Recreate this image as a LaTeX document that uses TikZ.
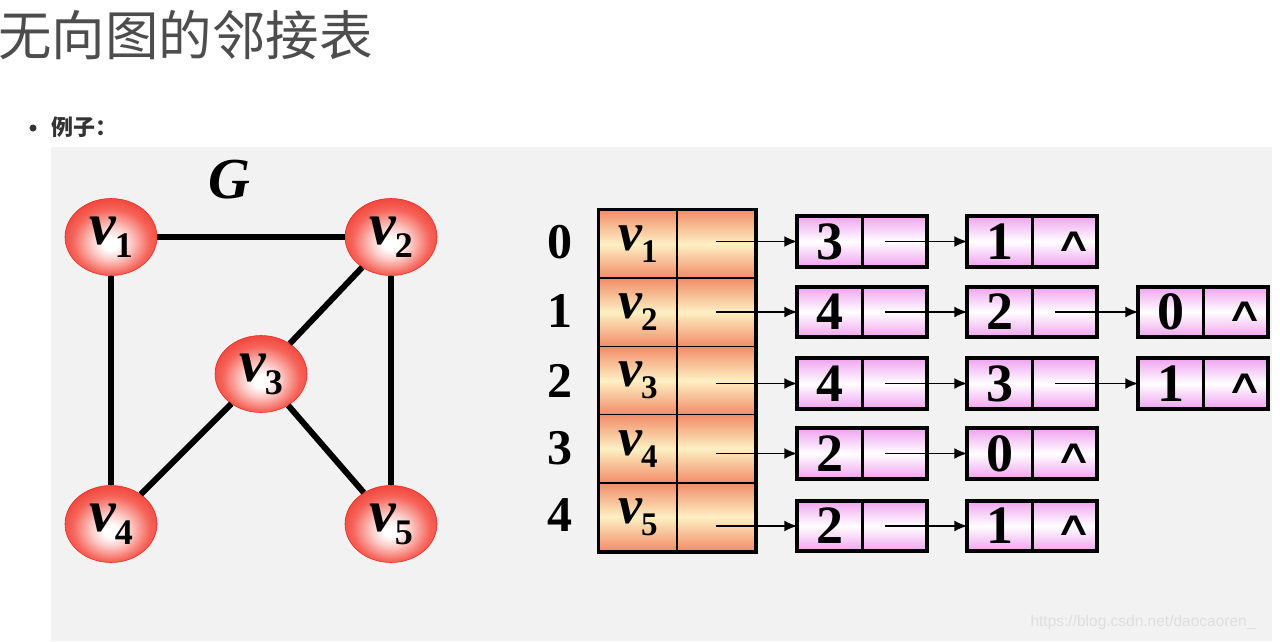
\documentclass[tikz,border=0pt]{standalone}
\usepackage{fontspec}
\usepackage{graphicx}
\setmainfont{Liberation Serif}
\newfontfamily\cjk{Noto Sans CJK SC}
\newfontfamily\wmfont{Liberation Sans}
\newfontfamily\symfont{DejaVu Sans}
\usetikzlibrary{shapes.geometric,arrows.meta}
\definecolor{bgray}{RGB}{242,242,242}
\definecolor{titlegray}{RGB}{77,77,77}
\definecolor{bulletgray}{RGB}{51,51,51}
\definecolor{nodered}{RGB}{238,45,35}
\definecolor{nodemid}{RGB}{246,100,90}
\definecolor{nodelight}{RGB}{252,200,195}
\definecolor{tabor}{RGB}{242,140,104}
\definecolor{tabmid}{RGB}{253,240,195}
\definecolor{pinkc}{RGB}{240,165,240}
\definecolor{wmgray}{RGB}{222,222,222}
\pgfdeclareradialshading{vball}{\pgfpoint{0bp}{-5bp}}{color(0bp)=(white); color(4bp)=(white); color(11bp)=(nodelight); color(21bp)=(nodemid); color(33bp)=(nodered); color(50bp)=(nodered)}
% v with subscript: #1 digit, #2 v size, #3 sub size, #4 drop
\newcommand{\vsub}[4]{{\fontsize{#2}{#2}\selectfont\bfseries\itshape v}\kern-1pt\raisebox{-#4}{\fontsize{#3}{#3}\selectfont\bfseries #1}}
\newcommand{\gv}[1]{\vsub{#1}{60}{36}{13pt}}
\newcommand{\tv}[1]{\vsub{#1}{54}{33}{12pt}}
\tikzset{
  vert/.style={ellipse, minimum width=92pt, minimum height=77pt, inner sep=0pt,
    shading=vball, draw=nodered, line width=0.6pt},
  edge/.style={line width=6pt},
  tcell/.style={rectangle, minimum width=78pt, minimum height=68.2pt, inner sep=0pt,
    top color=tabor, bottom color=tabor, middle color=tabmid, draw=black, line width=1.5pt},
  lcellA/.style={rectangle, minimum width=64pt, minimum height=49pt, inner sep=0pt,
    top color=pinkc, bottom color=pinkc, middle color=white, draw=black, line width=1.5pt,
    font=\fontsize{54}{54}\selectfont\bfseries},
  lcellB/.style={rectangle, minimum width=63pt, minimum height=49pt, inner sep=0pt,
    top color=pinkc, bottom color=pinkc, middle color=white, draw=black, line width=1.5pt,
    anchor=west, font=\symfont\fontsize{28}{28}\selectfont},
  boxframe/.style={draw=black, line width=4pt},
  tabframe/.style={draw=black, line width=3.5pt},
  ptr/.style={line width=1.8pt, -{Latex[length=13pt,width=11pt]}},
  idx/.style={font=\fontsize{50}{50}\selectfont\bfseries},
}
\newcommand{\nil}{\hspace*{18pt}\raisebox{-4pt}{\scalebox{1.9}[1.2]{∧}}}
\begin{document}
\begin{tikzpicture}[x=1pt,y=-1pt]
\useasboundingbox (0,0) rectangle (1280,641);
\fill[white] (0,0) rectangle (1280,641);
\fill[bgray] (51,147) rectangle (1272,641);

% heading
\node[anchor=west, inner sep=0pt, text=titlegray, font=\cjk\fontsize{53.5}{53.5}\selectfont] (title) at (-2,35) {无向图的邻接表};
\fill[bulletgray] (33,128) circle (3.5);
\node[anchor=west, inner sep=0pt, text=bulletgray, font=\cjk\bfseries\fontsize{22}{22}\selectfont] (ex) at (51,127) {例子：};

% graph G
\node[font=\fontsize{58}{58}\selectfont\bfseries\itshape] (G) at (229,180) {G};
\node[vert] (v1) at (111,237) {\gv{1}};
\node[vert] (v2) at (391,237) {\gv{2}};
\node[vert] (v3) at (261,374) {\gv{3}};
\node[vert] (v4) at (111,524) {\gv{4}};
\node[vert] (v5) at (391,524) {\gv{5}};
\draw[edge] (v1) -- (v2);
\draw[edge] (v1) -- (v4);
\draw[edge] (v2) -- (v3);
\draw[edge] (v2) -- (v5);
\draw[edge] (v3) -- (v4);
\draw[edge] (v3) -- (v5);

% vertex table
\node[tcell] (t0a) at (638,244.1) {\tv{1}};
\node[tcell] (t0b) at (716,244.1) {};
\node[tcell] (t1a) at (638,312.3) {\tv{2}};
\node[tcell] (t1b) at (716,312.3) {};
\node[tcell] (t2a) at (638,380.5) {\tv{3}};
\node[tcell] (t2b) at (716,380.5) {};
\node[tcell] (t3a) at (638,448.7) {\tv{4}};
\node[tcell] (t3b) at (716,448.7) {};
\node[tcell] (t4a) at (638,516.9) {\tv{5}};
\node[tcell] (t4b) at (716,516.9) {};
\draw[tabframe] (t0a.north west) rectangle (t4b.south east);

\node[idx] (i0) at (560,242) {0};
\node[idx] (i1) at (560,311) {1};
\node[idx] (i2) at (560,381) {2};
\node[idx] (i3) at (560,448) {3};
\node[idx] (i4) at (560,515) {4};

% edge lists
% row 0
\node[lcellA] (l00a) at (830,241.5) {3};
\node[lcellB] (l00b) at (l00a.east) {};
\node[lcellA] (l01a) at (1000,241.5) {1};
\node[lcellB] (l01b) at (l01a.east) {\nil};
% row 1
\node[lcellA] (l10a) at (830,312) {4};
\node[lcellB] (l10b) at (l10a.east) {};
\node[lcellA] (l11a) at (1000,312) {2};
\node[lcellB] (l11b) at (l11a.east) {};
\node[lcellA] (l12a) at (1171,312) {0};
\node[lcellB] (l12b) at (l12a.east) {\nil};
% row 2
\node[lcellA] (l20a) at (830,383.5) {4};
\node[lcellB] (l20b) at (l20a.east) {};
\node[lcellA] (l21a) at (1000,383.5) {3};
\node[lcellB] (l21b) at (l21a.east) {};
\node[lcellA] (l22a) at (1171,383.5) {1};
\node[lcellB] (l22b) at (l22a.east) {\nil};
% row 3
\node[lcellA] (l30a) at (830,453.5) {2};
\node[lcellB] (l30b) at (l30a.east) {};
\node[lcellA] (l31a) at (1000,453.5) {0};
\node[lcellB] (l31b) at (l31a.east) {\nil};
% row 4
\node[lcellA] (l40a) at (830,526) {2};
\node[lcellB] (l40b) at (l40a.east) {};
\node[lcellA] (l41a) at (1000,526) {1};
\node[lcellB] (l41b) at (l41a.east) {\nil};

\foreach \b in {l00,l01,l10,l11,l12,l20,l21,l22,l30,l31,l40,l41}{
  \draw[boxframe] (\b a.north west) rectangle (\b b.south east);
}

% pointers from table
\draw[ptr] (l00a.west -| t0b.center) -- (l00a.west);
\draw[ptr] (l10a.west -| t1b.center) -- (l10a.west);
\draw[ptr] (l20a.west -| t2b.center) -- (l20a.west);
\draw[ptr] (l30a.west -| t3b.center) -- (l30a.west);
\draw[ptr] (l40a.west -| t4b.center) -- (l40a.west);
% pointers between nodes
\draw[ptr] ([xshift=-10pt]l00b.center) -- (l01a.west);
\draw[ptr] ([xshift=-10pt]l10b.center) -- (l11a.west);
\draw[ptr] ([xshift=-10pt]l11b.center) -- (l12a.west);
\draw[ptr] ([xshift=-10pt]l20b.center) -- (l21a.west);
\draw[ptr] ([xshift=-10pt]l21b.center) -- (l22a.west);
\draw[ptr] ([xshift=-10pt]l30b.center) -- (l31a.west);
\draw[ptr] ([xshift=-10pt]l40b.center) -- (l41a.west);

% watermark
\node[text=wmgray, font=\wmfont\fontsize{15.5}{15.5}\selectfont, inner sep=0pt] (wm) at (1143,622) {https://blog.csdn.net/daocaoren\_};
\end{tikzpicture}
\end{document}
